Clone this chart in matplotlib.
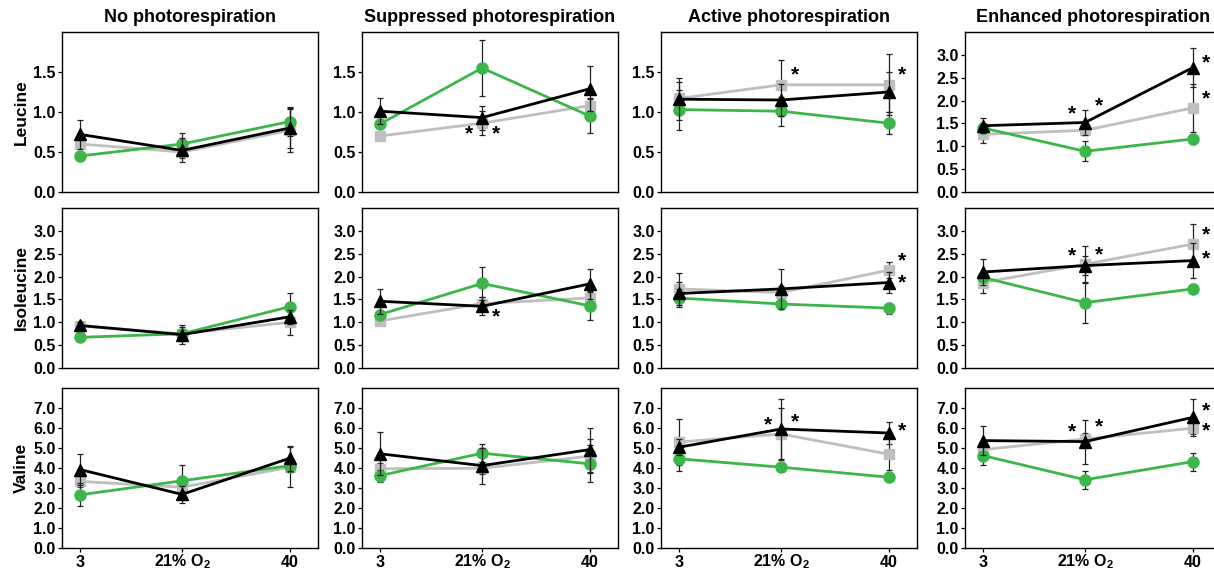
import matplotlib
matplotlib.use("Agg")
import matplotlib.pyplot as plt
from matplotlib.ticker import FormatStrFormatter

plt.rcParams['font.family'] = ['Liberation Sans', 'DejaVu Sans']
plt.rcParams['font.weight'] = 'bold'
plt.rcParams['mathtext.fontset'] = 'custom'
plt.rcParams['mathtext.rm'] = 'Liberation Sans:bold'
plt.rcParams['mathtext.bf'] = 'Liberation Sans:bold'

o2_levels = [3, 21, 40]
o2_labels = ["3", r"21% O$_{2}$", "40"]
conditions = ["No photorespiration", "Suppressed photorespiration",
              "Active photorespiration", "Enhanced photorespiration"]
amino_acids = ["Leucine", "Isoleucine", "Valine"]

# Leucine
leu_circle = [[0.45, 0.60, 0.88], [0.85, 1.55, 0.95], [1.03, 1.01, 0.86], [1.40, 0.89, 1.16]]
leu_circle_err = [[0.05, 0.14, 0.18], [0.05, 0.35, 0.21], [0.25, 0.18, 0.14], [0.10, 0.22, 0.10]]
leu_square = [[0.60, 0.50, 0.77], [0.70, 0.86, 1.08], [1.17, 1.34, 1.34], [1.26, 1.35, 1.84]]
leu_square_err = [[0.05, 0.08, 0.27], [0.05, 0.15, 0.10], [0.20, 0.31, 0.38], [0.18, 0.10, 0.53]]
leu_triangle = [[0.72, 0.52, 0.80], [1.01, 0.93, 1.29], [1.16, 1.15, 1.25], [1.45, 1.52, 2.72]]
leu_triangle_err = [[0.18, 0.15, 0.25], [0.16, 0.15, 0.28], [0.26, 0.20, 0.25], [0.16, 0.27, 0.42]]

# Isoleucine
ile_circle = [[0.67, 0.75, 1.34], [1.17, 1.85, 1.36], [1.53, 1.40, 1.31], [1.98, 1.43, 1.73]]
ile_circle_err = [[0.05, 0.10, 0.29], [0.10, 0.36, 0.31], [0.20, 0.08, 0.12], [0.10, 0.45, 0.10]]
ile_square = [[0.92, 0.75, 1.00], [1.03, 1.41, 1.53], [1.73, 1.65, 2.14], [1.87, 2.27, 2.71]]
ile_square_err = [[0.08, 0.15, 0.27], [0.08, 0.15, 0.15], [0.35, 0.15, 0.18], [0.24, 0.40, 0.44]]
ile_triangle = [[0.93, 0.73, 1.12], [1.46, 1.35, 1.84], [1.63, 1.73, 1.87], [2.10, 2.24, 2.35]]
ile_triangle_err = [[0.08, 0.20, 0.15], [0.27, 0.20, 0.32], [0.25, 0.43, 0.24], [0.28, 0.20, 0.38]]

# Valine
val_circle = [[2.66, 3.36, 4.12], [3.62, 4.74, 4.21], [4.46, 4.04, 3.54], [4.62, 3.41, 4.32]]
val_circle_err = [[0.58, 0.80, 0.30], [0.30, 0.46, 0.92], [0.60, 0.20, 0.20], [0.46, 0.45, 0.45]]
val_square = [[3.33, 3.04, 4.04], [3.96, 3.99, 4.59], [5.30, 5.70, 4.69], [4.92, 5.45, 5.99]]
val_square_err = [[0.30, 0.50, 1.00], [0.30, 0.30, 0.85], [1.15, 1.30, 0.80], [0.30, 0.30, 0.30]]
val_triangle = [[3.92, 2.68, 4.49], [4.71, 4.12, 4.92], [5.04, 5.95, 5.75], [5.37, 5.32, 6.53]]
val_triangle_err = [[0.78, 0.42, 0.63], [1.08, 0.90, 1.10], [0.40, 1.50, 0.57], [0.72, 1.10, 0.92]]

# significance asterisks: (row, col, O2 index, side, y)
asterisks = [
    (0, 1, 1, -1, 0.73), (0, 1, 1, 1, 0.73), (0, 2, 1, 1, 1.46), (0, 2, 2, 1, 1.46),
    (0, 3, 1, -1, 1.71), (0, 3, 1, 1, 1.89), (0, 3, 2, 1, 2.83), (0, 3, 2, 1, 2.03),
    (1, 1, 1, 1, 1.11), (1, 2, 2, 1, 2.35), (1, 2, 2, 1, 1.87),
    (1, 3, 1, -1, 2.45), (1, 3, 1, 1, 2.48), (1, 3, 2, 1, 2.92), (1, 3, 2, 1, 2.38),
    (2, 2, 1, -1, 6.15), (2, 2, 1, 1, 6.29), (2, 2, 2, 1, 5.87),
    (2, 3, 1, -1, 5.79), (2, 3, 1, 1, 6.04), (2, 3, 2, 1, 6.87), (2, 3, 2, 1, 5.87),
]

data = {
    0: (leu_circle, leu_circle_err, leu_square, leu_square_err, leu_triangle, leu_triangle_err),
    1: (ile_circle, ile_circle_err, ile_square, ile_square_err, ile_triangle, ile_triangle_err),
    2: (val_circle, val_circle_err, val_square, val_square_err, val_triangle, val_triangle_err),
}

W, H = 1214, 573
fig = plt.figure(figsize=(W / 100, H / 100), dpi=100)

col_left = [62, 362, 661, 965]
ax_w = 256
row_top = [32, 208, 388]
ax_h = 160

GREEN = "#3cb64a"
GRAY = "#bfbfbf"
BLACK = "#000000"

ylims = {0: [2.0, 2.0, 2.0, 3.5], 1: [3.5] * 4, 2: [8.0] * 4}
yticks = {0: [[0, 0.5, 1.0, 1.5]] * 3 + [[0, 0.5, 1.0, 1.5, 2.0, 2.5, 3.0]],
          1: [[0, 0.5, 1.0, 1.5, 2.0, 2.5, 3.0]] * 4,
          2: [[0, 1, 2, 3, 4, 5, 6, 7]] * 4}

for r in range(3):
    c_m, c_e, s_m, s_e, t_m, t_e = data[r]
    for c in range(4):
        ax = fig.add_axes([col_left[c] / W, 1 - (row_top[r] + ax_h) / H, ax_w / W, ax_h / H])
        # gray squares
        ax.errorbar(o2_levels, s_m[c], yerr=s_e[c], color=GRAY, marker='s', ms=7.5,
                    lw=2, ecolor='#222222', elinewidth=0.9, capsize=2.5, capthick=0.9, zorder=2)
        # green circles
        ax.errorbar(o2_levels, c_m[c], yerr=c_e[c], color=GREEN, marker='o', ms=8,
                    lw=2, ecolor='#222222', elinewidth=0.9, capsize=2.5, capthick=0.9, zorder=3)
        # black triangles
        ax.errorbar(o2_levels, t_m[c], yerr=t_e[c], color=BLACK, marker='^', ms=8.5,
                    lw=2, ecolor='#222222', elinewidth=0.9, capsize=2.5, capthick=0.9, zorder=4)

        ax.set_xlim(-0.2, 45)
        ax.set_ylim(0, ylims[r][c])
        ax.set_yticks(yticks[r][c])
        ax.yaxis.set_major_formatter(FormatStrFormatter('%.1f'))
        ax.tick_params(axis='y', labelsize=11.5, length=3, width=0.9, pad=1.5)
        for lab in ax.get_yticklabels():
            lab.set_fontweight('bold')
        if r == 2:
            ax.set_xticks(o2_levels)
            ax.set_xticklabels(o2_labels, fontsize=11.5, fontweight='bold')
            ax.tick_params(axis='x', length=3, width=0.9, pad=10.5)
            for lab in ax.get_xticklabels():
                lab.set_verticalalignment('baseline')
        else:
            ax.set_xticks([])
        for sp in ax.spines.values():
            sp.set_linewidth(1.0)
        if r == 0:
            ax.set_title(conditions[c], fontsize=13, fontweight='bold', pad=7)
        if c == 0:
            ax.set_ylabel(amino_acids[r], fontsize=12.5, fontweight='bold', labelpad=3)
        for (ar, ac, xi, side, yv) in asterisks:
            if ar == r and ac == c:
                ax.text(o2_levels[xi] + side * 2.4, yv, "*", ha='center', va='center',
                        fontsize=15, fontweight='bold', color='black', zorder=6)

fig.savefig("out.png", dpi=100)
